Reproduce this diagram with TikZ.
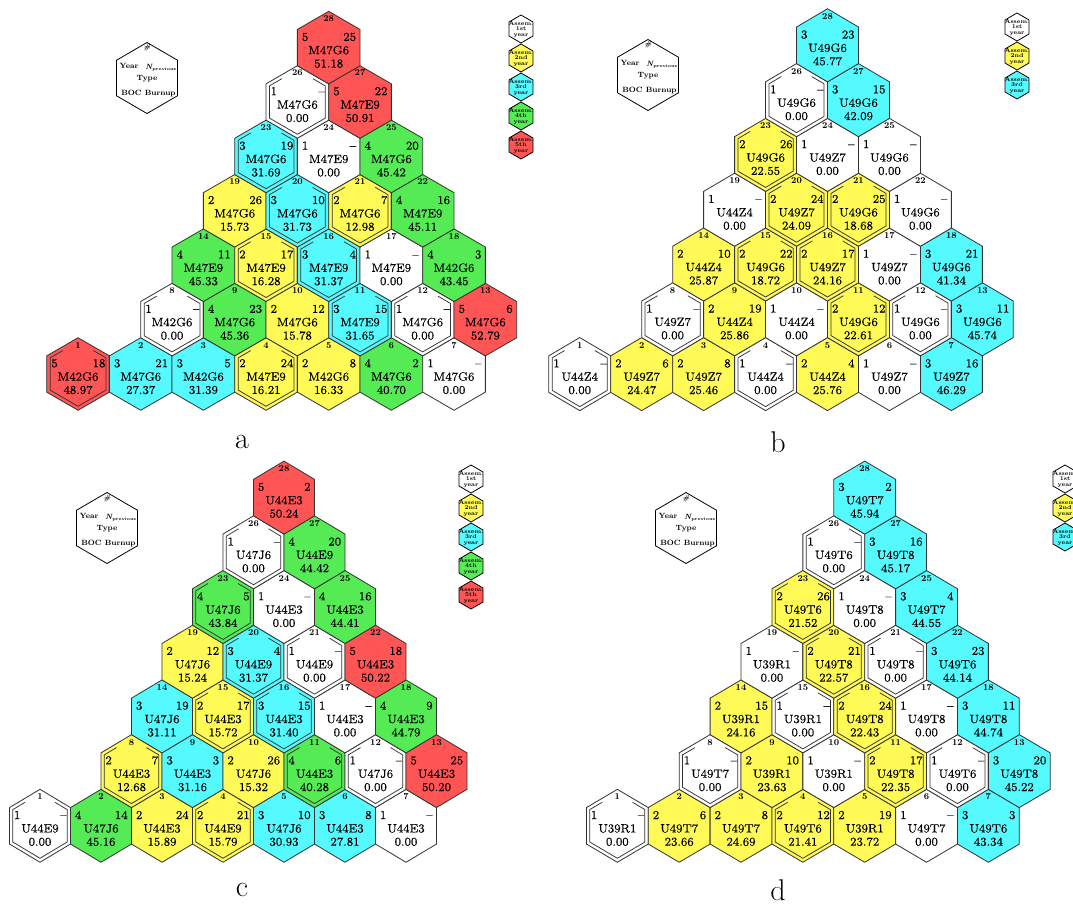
\documentclass[tikz,border=0pt]{standalone}
\usepackage{fontspec}
\usetikzlibrary{calc}

\newfontface\cellfnt{lmroman8-regular.otf}[FakeBold=0.35, Ligatures=TeX]

\definecolor{year1}{HTML}{FFFFFF}
\definecolor{year2}{HTML}{FFFA55}
\definecolor{year3}{HTML}{55FAFF}
\definecolor{year4}{HTML}{55EB55}
\definecolor{year5}{HTML}{FF5555}

% cell places in the map (half pitches / rows from cell 28) and double walls
\def\hexcol{{-8,-6,-4,-2,0,2,4,-5,-3,-1,1,3,5,-4,-2,0,2,4,-3,-1,1,3,-2,0,2,-1,1,0}}
\def\hexrow{{6,6,6,6,6,6,6,5,5,5,5,5,5,4,4,4,4,4,3,3,3,3,2,2,2,1,1,0}}
\def\hexdbl{{1,0,0,1,0,0,0,1,0,0,1,1,0,0,1,1,0,0,0,1,1,0,1,0,0,1,0,0}}

% #1 name, #2 #3 centre of cell 28, #4 half pitch, #5 row pitch, #6 cells
\newcommand{\coremap}[6]{%
  \foreach [count=\i] \yr/\np/\ty/\bu in {#6} {
    \pgfmathsetmacro{\cx}{#2+\hexcol[\i-1]*#4}
    \pgfmathsetmacro{\cy}{#3+\hexrow[\i-1]*#5}
    \pgfmathsetmacro{\ry}{#5/1.5}
    \pgfmathtruncatemacro{\dbl}{\hexdbl[\i-1]}
    \begin{scope}[shift={(\cx,\cy)}]
      \draw[hexline, fill=year\yr] (0,-\ry) -- (#4,-\ry/2) -- (#4,\ry/2) -- (0,\ry)
        -- (-#4,\ry/2) -- (-#4,-\ry/2) -- cycle;
      \ifnum\dbl=1
        \draw[innerline] ({0.49*#4},{-0.645*\ry}) -- ({0.89*#4},{-0.445*\ry})
          -- ({0.89*#4},{0.445*\ry}) -- (0,{0.89*\ry}) -- ({-0.89*#4},{0.445*\ry})
          -- ({-0.89*#4},{-0.445*\ry}) -- ({-0.49*#4},{-0.645*\ry});
      \fi
      \node[cellno, anchor=base] (#1-no\i) at (0,-26) {\i};
      \node[celltext, anchor=base west] (#1-yr\i) at ({-0.86*#4},-6.8) {\yr};
      \node[celltext, anchor=base east] (#1-np\i) at ({0.88*#4},-6.8) {\np};
      \node[celltext, anchor=base] (#1-ty\i) at (0,6.6) {\ty};
      \node[celltext, anchor=base] (#1-bu\i) at (0,19.9) {\bu};
    \end{scope}
  }
}

% key cell: #1 name, #2 #3 centre
\newcommand{\corekey}[3]{%
  \begin{scope}[shift={(#2,#3)}]
    \draw[keyline] (0,-35.5) -- (30.5,-17.75) -- (30.5,17.75) -- (0,35.5)
      -- (-30.5,17.75) -- (-30.5,-17.75) -- cycle;
    \node[keytext, anchor=base] (#1-kno) at (0,-28) {\itshape\#};
    \node[keytext, anchor=base west] (#1-kyr) at (-27.5,-9.6) {Year};
    \node[keytext, anchor=base east] (#1-knp) at (29.5,-8.6)
      {\itshape N\raisebox{-1.3pt}{\fontsize{4.3}{4.3}\selectfont\upshape previous}};
    \node[keytext, anchor=base] (#1-kty) at (0,2.8) {Type};
    \node[keytext, anchor=base] (#1-kbu) at (1.5,17.6) {BOC Burnup};
  \end{scope}
}

% legend column: #1 name, #2 #3 centre of top cell, #4 years
\newcommand{\coreleg}[4]{%
  \foreach [count=\k] \ord in {#4} {
    \begin{scope}[shift={(#2,{#3+29*(\k-1)})}]
      \draw[keyline, fill=year\k] (0,-14) -- (12,-7) -- (12,7) -- (0,14)
        -- (-12,7) -- (-12,-7) -- cycle;
      \node[legtext] (#1-leg\k) at (0,0.5) {Assem.\\\ord\\year};
    \end{scope}
  }
}

\begin{document}
\begin{tikzpicture}[
    x=1pt, y=-1pt,
    hexline/.style={draw=black!80, line width=0.8pt, line join=miter},
    innerline/.style={draw=black!80, line width=0.75pt},
    keyline/.style={draw=black, line width=0.8pt},
    celltext/.style={inner sep=0pt, font=\fontsize{12}{12}\selectfont\cellfnt},
    cellno/.style={inner sep=0pt, font=\fontsize{9}{9}\selectfont\bfseries},
    keytext/.style={inner sep=0pt, font=\fontsize{7.6}{8}\selectfont\bfseries},
    legtext/.style={inner sep=0pt, align=center, font=\fontsize{5.8}{5.4}\selectfont\bfseries},
    panel/.style={inner sep=0pt, font=\fontsize{30}{30}\selectfont}
  ]
  \path[use as bounding box, fill=white] (0,0) rectangle (1073,904);

  % a
  \coremap{a}{328.7}{47.6}{31.33}{54.4}{
    5/18/M42G6/48.97, 3/21/M47G6/27.37, 3/5/M42G6/31.39, 2/24/M47E9/16.21,
    2/8/M42G6/16.33, 4/2/M47G6/40.70, 1/--/M47G6/0.00,
    1/--/M42G6/0.00, 4/23/M47G6/45.36, 2/12/M47G6/15.78, 3/15/M47E9/31.65,
    1/--/M47G6/0.00, 5/6/M47G6/52.79,
    4/11/M47E9/45.33, 2/17/M47E9/16.28, 3/4/M47E9/31.37, 1/--/M47E9/0.00, 4/3/M42G6/43.45,
    2/26/M47G6/15.73, 3/10/M47G6/31.73, 2/7/M47G6/12.98, 4/16/M47E9/45.11,
    3/19/M47G6/31.69, 1/--/M47E9/0.00, 4/20/M47G6/45.42,
    1/--/M47G6/0.00, 5/22/M47E9/50.91,
    5/25/M47G6/51.18}
  \corekey{a}{147}{78}
  \coreleg{a}{521}{29}{1st,2nd,3rd,4th,5th}
  \node[panel] (lab-a) at (242,442) {a};

  % b
  \coremap{b}{827.5}{45.3}{30.97}{54.8}{
    1/--/U44Z4/0.00, 2/6/U49Z7/24.47, 2/8/U49Z7/25.46, 1/--/U44Z4/0.00,
    2/4/U44Z4/25.76, 1/--/U49Z7/0.00, 3/16/U49Z7/46.29,
    1/--/U49Z7/0.00, 2/19/U44Z4/25.86, 1/--/U44Z4/0.00, 2/12/U49G6/22.61,
    1/--/U49G6/0.00, 3/11/U49G6/45.74,
    2/10/U44Z4/25.87, 2/22/U49G6/18.72, 2/17/U49Z7/24.16, 1/--/U49Z7/0.00, 3/21/U49G6/41.34,
    1/--/U44Z4/0.00, 2/24/U49Z7/24.09, 2/25/U49G6/18.68, 1/--/U49G6/0.00,
    2/26/U49G6/22.55, 1/--/U49Z7/0.00, 1/--/U49G6/0.00,
    1/--/U49G6/0.00, 3/15/U49G6/42.09,
    3/23/U49G6/45.77}
  \corekey{b}{648}{75}
  \coreleg{b}{1017}{27}{1st,2nd,3rd}
  \node[panel] (lab-b) at (778,442) {b};

  % c
  \coremap{c}{284}{497.6}{30.5}{54.7}{
    1/--/U44E9/0.00, 4/14/U47J6/45.16, 2/24/U44E3/15.89, 2/21/U44E9/15.79,
    3/10/U47J6/30.93, 3/8/U44E3/27.81, 1/--/U44E3/0.00,
    2/7/U44E3/12.68, 3/3/U44E3/31.16, 2/26/U47J6/15.32, 4/6/U44E3/40.28,
    1/--/U47J6/0.00, 5/25/U44E3/50.20,
    3/19/U47J6/31.11, 2/17/U44E3/15.72, 3/15/U44E3/31.40, 1/--/U44E3/0.00, 4/9/U44E3/44.79,
    2/12/U47J6/15.24, 3/4/U44E9/31.37, 1/--/U44E9/0.00, 5/18/U44E3/50.22,
    4/5/U47J6/43.84, 1/--/U44E3/0.00, 4/16/U44E3/44.41,
    1/--/U47J6/0.00, 4/20/U44E9/44.42,
    5/2/U44E3/50.24}
  \corekey{c}{107}{528}
  \coreleg{c}{471}{479}{1st,2nd,3rd,4th,5th}
  \node[panel] (lab-c) at (242,890) {c};

  % d
  \coremap{d}{864.7}{497.6}{30.92}{54.7}{
    1/--/U39R1/0.00, 2/6/U49T7/23.66, 2/8/U49T7/24.69, 2/12/U49T6/21.41,
    2/19/U39R1/23.72, 1/--/U49T7/0.00, 3/3/U49T6/43.34,
    1/--/U49T7/0.00, 2/10/U39R1/23.63, 1/--/U39R1/0.00, 2/17/U49T8/22.35,
    1/--/U49T6/0.00, 3/20/U49T8/45.22,
    2/15/U39R1/24.16, 1/--/U39R1/0.00, 2/24/U49T8/22.43, 1/--/U49T8/0.00, 3/11/U49T8/44.74,
    1/--/U39R1/0.00, 2/21/U49T8/22.57, 1/--/U49T8/0.00, 3/23/U49T6/44.14,
    2/26/U49T6/21.52, 1/--/U49T8/0.00, 3/4/U49T7/44.55,
    1/--/U49T6/0.00, 3/16/U49T8/45.17,
    3/2/U49T7/45.94}
  \corekey{d}{686}{528}
  \coreleg{d}{1065}{479}{1st,2nd,3rd}
  \node[panel] (lab-d) at (778,890) {d};
\end{tikzpicture}
\end{document}
